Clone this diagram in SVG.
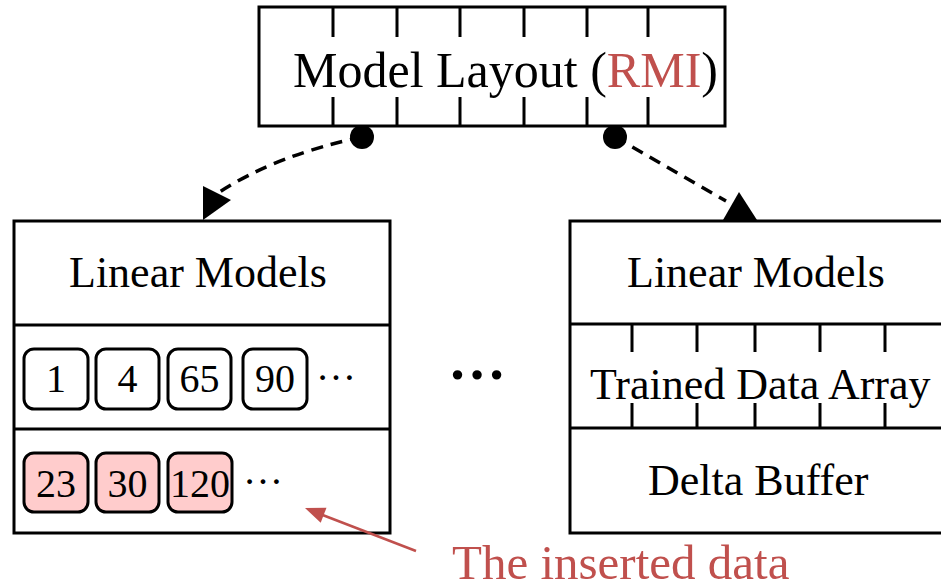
<svg xmlns="http://www.w3.org/2000/svg" width="941" height="584" viewBox="0 0 941 584">
  <style>
    .box { fill: #ffffff; stroke: #000000; stroke-width: 3; }
    .line { fill: none; stroke: #000000; stroke-width: 3; }
    .cell { fill: #ffffff; stroke: #000000; stroke-width: 3; }
    .cell.new { fill: #ffcccc; }
    .t { font-family: "Liberation Serif", "Times New Roman", serif; fill: #000000; }
    .red { fill: #c0504d; }
    .dash { fill: none; stroke: #000000; stroke-width: 3.5; stroke-dasharray: 12 8; }
    .head { fill: #000000; }
    .pin { fill: #000000; }
    .note { stroke: #c0504d; stroke-width: 2.5; fill: none; }
    .notehead { fill: #c0504d; }
  </style>

  <!-- root model layout with tick marks -->
  <g id="model-layout">
    <rect class="box" x="259" y="7" width="466" height="119"/>
    <path class="line" d="M333 7V37M397 7V37M460 7V37M524 7V37M587 7V37M648 7V37"/>
    <path class="line" d="M333 97V126M397 97V126M460 97V126M524 97V126M587 97V126M648 97V126"/>
    <text class="t" x="293" y="87" font-size="50">Model Layout (<tspan class="red">RMI</tspan>)</text>
  </g>

  <!-- left leaf node -->
  <g id="left-node">
    <rect class="box" x="14" y="221" width="376" height="312"/>
    <path class="line" d="M14 325H390M14 429H390"/>
    <text class="t" x="69" y="287" font-size="44">Linear Models</text>
    <g id="trained-keys">
      <rect class="cell" x="24" y="349" width="64" height="60" rx="10"/>
      <rect class="cell" x="96" y="349" width="63" height="60" rx="10"/>
      <rect class="cell" x="168" y="349" width="63" height="60" rx="10"/>
      <rect class="cell" x="243" y="349" width="64" height="60" rx="10"/>
      <text class="t" x="56" y="392" font-size="40" text-anchor="middle">1</text>
      <text class="t" x="127.5" y="392" font-size="40" text-anchor="middle">4</text>
      <text class="t" x="199.5" y="392" font-size="40" text-anchor="middle">65</text>
      <text class="t" x="275" y="392" font-size="40" text-anchor="middle">90</text>
      <text class="t" x="316" y="380" font-size="40">…</text>
    </g>
    <g id="inserted-keys">
      <rect class="cell new" x="24" y="453" width="64" height="59" rx="10"/>
      <rect class="cell new" x="96" y="453" width="63" height="59" rx="10"/>
      <rect class="cell new" x="168" y="453" width="64" height="59" rx="10"/>
      <text class="t" x="56" y="497" font-size="40" text-anchor="middle">23</text>
      <text class="t" x="127.5" y="497" font-size="40" text-anchor="middle">30</text>
      <text class="t" x="200" y="497" font-size="40" text-anchor="middle">120</text>
      <text class="t" x="243" y="484" font-size="40">…</text>
    </g>
  </g>

  <!-- elided nodes between the leaves -->
  <g id="gap">
    <text class="t" x="448" y="379" font-size="58" font-weight="bold">…</text>
  </g>

  <!-- right leaf node, running off the right edge -->
  <g id="right-node">
    <path class="box" d="M945 221H570V533H945"/>
    <path class="line" d="M570 324H945M570 428H945"/>
    <path class="line" d="M632 324V352M697 324V352M755 324V352M820 324V352M885 324V352"/>
    <path class="line" d="M632 403V428M697 403V428M755 403V428M820 403V428M885 403V428"/>
    <text class="t" x="627" y="287" font-size="44">Linear Models</text>
    <text class="t" x="590" y="399" font-size="44">Trained Data Array</text>
    <text class="t" x="648" y="495" font-size="44">Delta Buffer</text>
  </g>

  <!-- connectors -->
  <g id="connectors">
    <path class="dash" d="M362 137Q276 155 218 193"/>
    <polygon class="head" points="203,186 231,200 203,220"/>
    <circle class="pin" cx="362" cy="137" r="12"/>

    <path class="dash" d="M615 137L726 201"/>
    <polygon class="head" points="739,192 723,220 757,220"/>
    <circle class="pin" cx="615" cy="137" r="12"/>

    <path class="note" d="M416 551L320 514"/>
    <polygon class="notehead" points="305,508 326.5,507.7 320.7,522.7"/>
  </g>

  <text id="note-label" class="t red" x="452" y="579" font-size="49">The inserted data</text>
</svg>
